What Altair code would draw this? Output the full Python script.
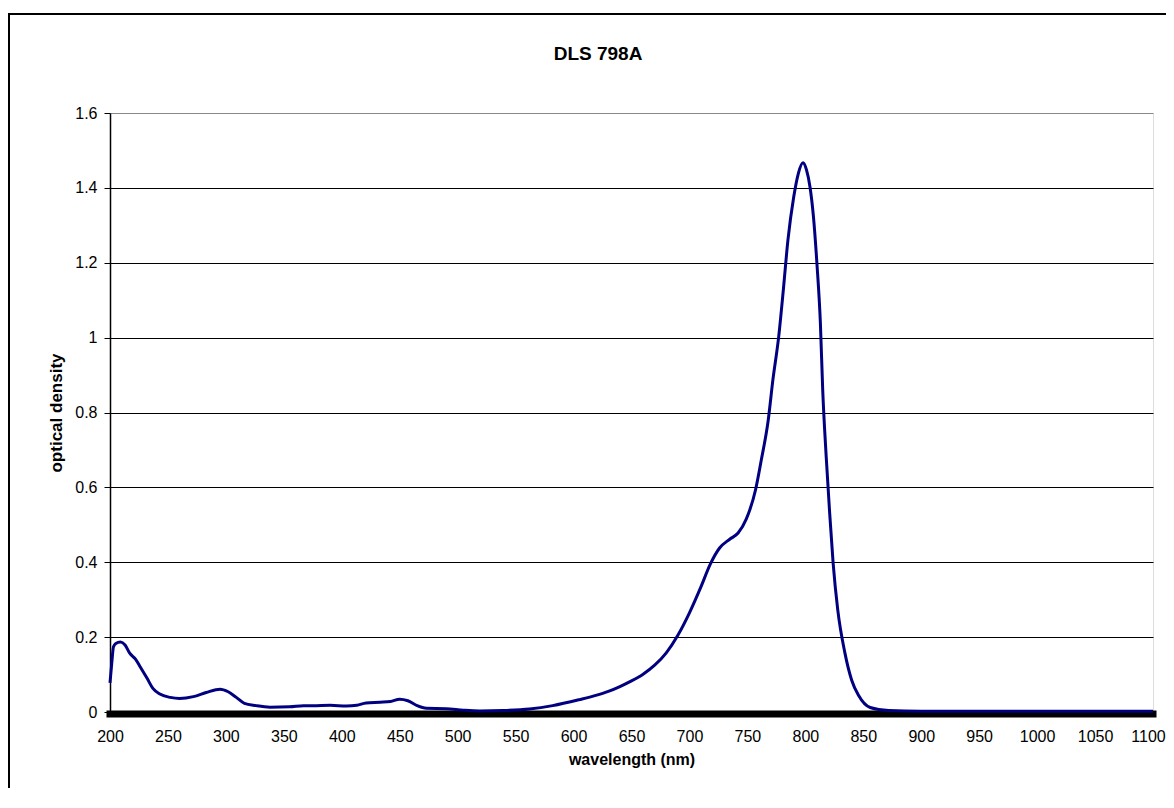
import altair as alt
import pandas as pd

# ---- data ----
wavelength = [200, 201.5, 203, 205, 209, 213, 217, 222, 226, 232, 237, 243, 252, 260,
              272, 283, 295, 302, 309, 316, 326, 338, 355, 367, 375, 390, 404, 413,
              421, 433, 442, 450, 457, 465, 473, 490, 505, 519, 539, 562, 582, 605,
              620, 630, 640, 650, 660, 670, 680, 690, 700, 710, 718, 726, 735, 742,
              749, 757, 762, 768, 772, 777, 781, 785, 790, 794, 798, 801, 804, 807,
              810, 813, 815, 818, 821, 824, 828, 834, 840, 846, 856, 872, 900, 950,
              1000, 1050, 1100]
optical_density = [0.078, 0.13, 0.174, 0.183, 0.187, 0.179, 0.157, 0.141, 0.121, 0.090,
                   0.063, 0.048, 0.039, 0.036, 0.041, 0.052, 0.061, 0.054, 0.039, 0.023,
                   0.017, 0.013, 0.014, 0.017, 0.017, 0.018, 0.016, 0.018, 0.024, 0.026,
                   0.028, 0.034, 0.030, 0.017, 0.010, 0.009, 0.005, 0.003, 0.004, 0.008,
                   0.017, 0.033, 0.045, 0.055, 0.068, 0.083, 0.101, 0.125, 0.158, 0.205,
                   0.265, 0.335, 0.395, 0.438, 0.462, 0.478, 0.515, 0.593, 0.673, 0.780,
                   0.887, 1.002, 1.127, 1.261, 1.376, 1.439, 1.467, 1.448, 1.403, 1.323,
                   1.198, 1.038, 0.860, 0.682, 0.531, 0.397, 0.272, 0.160, 0.085, 0.044,
                   0.012, 0.004, 0.002, 0.002, 0.002, 0.002, 0.002]
baseline_start = [200]
baseline_end = [1100]
baseline_value = [0]
x_ticks = list(range(200, 1101, 50))
y_ticks = [0, 0.2, 0.4, 0.6, 0.8, 1.0, 1.2, 1.4, 1.6]
chart_title = ["DLS 798A"]

FONT = "Liberation Sans"

spectrum = pd.DataFrame({"wavelength": wavelength, "od": optical_density})
base_df = pd.DataFrame({"x": baseline_start, "x2": baseline_end, "y": baseline_value})
frame_df = pd.DataFrame({"k": [0]})
title_df = pd.DataFrame({"t": chart_title})

x_scale = alt.Scale(domain=[200, 1100], nice=False, zero=False)
y_scale = alt.Scale(domain=[0, 1.6], nice=False)

line = alt.Chart(spectrum).mark_line(
    color="#000080", strokeWidth=3, interpolate="monotone"
).encode(
    x=alt.X("wavelength:Q", scale=x_scale,
            axis=alt.Axis(values=x_ticks, format="d", title="wavelength (nm)",
                          grid=False, ticks=False, tickSize=0, domain=False,
                          labelPadding=16, labelFontSize=16, labelFont=FONT,
                          labelColor="black", labelFlush=False,
                          labelOffset={"condition": {"test": "datum.value >= 1100", "value": -5},
                                       "value": 0},
                          titleFont=FONT, titleFontSize=16, titleFontWeight="bold",
                          titleColor="black", titlePadding=7)),
    y=alt.Y("od:Q", scale=y_scale,
            axis=alt.Axis(values=y_ticks, format=".1~f", title="optical density",
                          grid=True,
                          gridColor={"condition": {"test": "datum.value >= 1.59", "value": "#888888"},
                                     "value": "#000000"},
                          gridWidth=1, domain=True, domainColor="black", domainWidth=1.5,
                          ticks=True, tickColor="black", tickSize=6, labelPadding=7,
                          labelFontSize=16, labelFont=FONT, labelColor="black",
                          labelFlush=False,
                          titleFont=FONT, titleFontSize=17, titleFontWeight="bold",
                          titleColor="black", titlePadding=9)),
)

zero_line = alt.Chart(base_df).mark_rule(
    color="black", strokeWidth=7, strokeCap="square", yOffset=2
).encode(
    x=alt.X("x:Q", scale=x_scale),
    x2="x2:Q",
    y=alt.Y("y:Q", scale=y_scale),
)

frame_left = alt.Chart(frame_df).mark_rule(color="black", strokeWidth=2).encode(
    x=alt.value(-101), y=alt.value(-100), y2=alt.value(680),
)
frame_top = alt.Chart(frame_df).mark_rule(color="black", strokeWidth=2).encode(
    x=alt.value(-102), x2=alt.value(1056), y=alt.value(-99),
)

title_text = alt.Chart(title_df).mark_text(
    font=FONT, fontSize=19, fontWeight="bold", color="black",
    align="center", baseline="alphabetic"
).encode(
    text="t:N",
    x=alt.value(488), y=alt.value(-53),
)

chart = alt.layer(frame_left, frame_top, zero_line, line, title_text).properties(
    width=1043, height=599,
    padding={"left": 102, "top": 105, "right": 13, "bottom": 76},
    autosize=alt.AutoSizeParams(type="none"),
).configure_view(
    stroke="#888888", strokeWidth=1
).configure(background="white")

chart.save("out.html", embed_options={"renderer": "svg", "actions": False})
